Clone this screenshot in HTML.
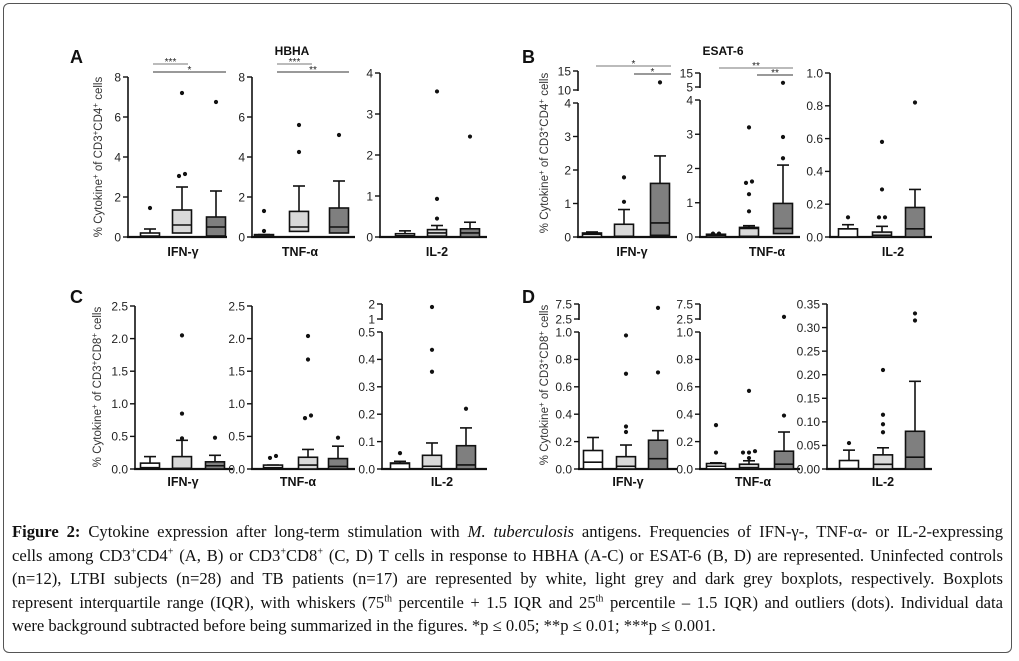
<!DOCTYPE html>
<html><head><meta charset="utf-8">
<style>
body{margin:0;background:#fff;width:1019px;height:661px;overflow:hidden;position:relative;font-family:"Liberation Sans",sans-serif}
#frame{position:absolute;left:3px;top:3px;width:1009px;height:650px;border:1.3px solid #555;border-radius:6px;box-sizing:border-box}
#cap{position:absolute;left:12px;top:520px;width:991px;font-family:"Liberation Serif",serif;font-size:16.6px;color:#111;line-height:23.5px}
#cap div{text-align:justify;text-align-last:justify;white-space:nowrap;overflow:visible}
#cap div.last{text-align-last:left}
sup{font-size:10px;line-height:0}
</style></head><body>
<div id="frame"></div>
<svg id="chart" width="1019" height="510" style="position:absolute;left:0;top:0" font-family="Liberation Sans, sans-serif"></svg>
<div id="cap">
<div><b>Figure 2:</b> Cytokine expression after long-term stimulation with <i>M. tuberculosis</i> antigens. Frequencies of IFN-γ-, TNF-α- or IL-2-expressing</div>
<div>cells among CD3<sup>+</sup>CD4<sup>+</sup> (A, B) or CD3<sup>+</sup>CD8<sup>+</sup> (C, D) T cells in response to HBHA (A-C) or ESAT-6 (B, D) are represented. Uninfected controls</div>
<div>(n=12), LTBI subjects (n=28) and TB patients (n=17) are represented by white, light grey and dark grey boxplots, respectively. Boxplots</div>
<div>represent interquartile range (IQR), with whiskers (75<sup>th</sup> percentile + 1.5 IQR and 25<sup>th</sup> percentile – 1.5 IQR) and outliers (dots). Individual data</div>
<div class="last">were background subtracted before being summarized in the figures. *p ≤ 0.05; **p ≤ 0.01; ***p ≤ 0.001.</div>
</div>
<script>
// ---- data: groups = controls, LTBI, TB ----
const groups = ["Controls","LTBI","TB"];
const A1_q1=[0,0.2,0.05], A1_med=[0.05,0.6,0.5], A1_q3=[0.2,1.35,1.0], A1_hi=[0.4,2.5,2.3], A1_out=[[1.45],[3.05,3.15,7.2],[6.75]];
const A2_q1=[0,0.28,0.2], A2_med=[0.05,0.5,0.5], A2_q3=[0.12,1.28,1.45], A2_hi=[0.12,2.55,2.8], A2_out=[[0.3,1.3],[4.25,5.6],[5.1]];
const A3_q1=[0,0.02,0], A3_med=[0.03,0.1,0.1], A3_q3=[0.08,0.18,0.2], A3_hi=[0.15,0.28,0.36], A3_out=[[],[0.45,0.93,3.55],[2.45]];
const B1_q1=[0,0,0.05], B1_med=[0.08,0.02,0.42], B1_q3=[0.12,0.38,1.6], B1_hi=[0.15,0.82,2.42], B1_out=[[],[1.05,1.78],[12]];
const B2_q1=[0,0.02,0.1], B2_med=[0.05,0.25,0.25], B2_q3=[0.08,0.28,0.98], B2_hi=[0.08,0.33,2.1], B2_out=[[0.1,0.1],[0.75,1.25,1.58,1.62,3.2],[2.3,2.92,8]];
const B3_q1=[0,0,0], B3_med=[0.05,0.01,0.05], B3_q3=[0.05,0.03,0.18], B3_hi=[0.075,0.065,0.29], B3_out=[[0.12],[0.12,0.12,0.29,0.58],[0.82]];
const C1_q1=[0,0,0], C1_med=[0.02,0.01,0.05], C1_q3=[0.09,0.19,0.11], C1_hi=[0.19,0.44,0.21], C1_out=[[],[0.47,0.85,2.05],[0.48]];
const C2_q1=[0,0,0], C2_med=[0.02,0.06,0.04], C2_q3=[0.06,0.18,0.16], C2_hi=[0.06,0.3,0.35], C2_out=[[0.17,0.2],[0.78,0.82,1.68,2.04],[0.48]];
const C3_q1=[0,0,0], C3_med=[0.02,0.01,0.015], C3_q3=[0.022,0.05,0.085], C3_hi=[0.028,0.095,0.15], C3_out=[[0.058],[0.355,0.435,1.8],[0.22]];
const D1_q1=[0,0,0], D1_med=[0.05,0.02,0.075], D1_q3=[0.135,0.09,0.21], D1_hi=[0.23,0.175,0.28], D1_out=[[],[0.27,0.31,0.695,0.975],[0.705,6.2]];
const D2_q1=[0,0,0], D2_med=[0.02,0.01,0.035], D2_q3=[0.04,0.035,0.13], D2_hi=[0.045,0.06,0.27], D2_out=[[0.12,0.32],[0.08,0.12,0.12,0.13,0.57],[0.39,3.2]];
const D3_q1=[0,0,0], D3_med=[0.001,0.01,0.025], D3_q3=[0.018,0.03,0.08], D3_hi=[0.04,0.045,0.186], D3_out=[[0.055],[0.078,0.095,0.115,0.21],[0.315,0.33]];
// tick values & labels
const tA12=[0,2,4,6,8], lA12=["0","2","4","6","8"];
const tA3=[0,1,2,3,4], lA3=["0","1","2","3","4"];
const tB1=[0,1,2,3,4,10,15], lB1=["0","1","2","3","4","10","15"];
const tB2=[0,1,2,3,4,5,15], lB2=["0","1","2","3","4","5","15"];
const tB3=[0,0.2,0.4,0.6,0.8,1.0], lB3=["0.0","0.2","0.4","0.6","0.8","1.0"];
const tC12=[0,0.5,1,1.5,2,2.5], lC12=["0.0","0.5","1.0","1.5","2.0","2.5"];
const tC3=[0,0.1,0.2,0.3,0.4,0.5,1,2], lC3=["0.0","0.1","0.2","0.3","0.4","0.5","1","2"];
const tD12=[0,0.2,0.4,0.6,0.8,1.0,2.5,7.5], lD12=["0.0","0.2","0.4","0.6","0.8","1.0","2.5","7.5"];
const tD3=[0,0.05,0.1,0.15,0.2,0.25,0.3,0.35], lD3=["0.00","0.05","0.10","0.15","0.20","0.25","0.30","0.35"];
const sigLabels=["***","*","***","**","*","*","**","**"];

// ---- layout ----
const NS="http://www.w3.org/2000/svg";
const svg=document.getElementById('chart');
const fills=["#ffffff","#d9d9d9","#7f7f7f"];
function el(tag,attrs,parent){const e=document.createElementNS(NS,tag);for(const k in attrs)e.setAttribute(k,attrs[k]);(parent||svg).appendChild(e);return e;}
function txt(x,y,s,attrs){const t=el('text',Object.assign({x:x,y:y},attrs));t.textContent=s;return t;}

const plots=[
 {id:"a-ifn",ax:128,end:227,segs:[[0,8,237,77]],t:tA12,l:lA12,bx:[150,182,216],cat:"IFN-γ",cx:183,cy:256,d:[A1_q1,A1_med,A1_q3,A1_hi,A1_out]},
 {id:"a-tnf",ax:252,end:355,segs:[[0,8,237,77]],t:tA12,l:lA12,bx:[264,299,339],cat:"TNF-α",cx:300,cy:256,d:[A2_q1,A2_med,A2_q3,A2_hi,A2_out]},
 {id:"a-il2",ax:380,end:487,segs:[[0,4,237,73]],t:tA3,l:lA3,bx:[405,437,470],cat:"IL-2",cx:437,cy:256,d:[A3_q1,A3_med,A3_q3,A3_hi,A3_out]},
 {id:"b-ifn",ax:578,end:677,segs:[[0,4,237,103],[10,15,90,71]],t:tB1,l:lB1,bx:[592,624,660],cat:"IFN-γ",cx:632,cy:256,d:[B1_q1,B1_med,B1_q3,B1_hi,B1_out]},
 {id:"b-tnf",ax:700,end:800,segs:[[0,4,237,100],[5,15,87,73]],t:tB2,l:lB2,bx:[716,749,783],cat:"TNF-α",cx:767,cy:256,d:[B2_q1,B2_med,B2_q3,B2_hi,B2_out]},
 {id:"b-il2",ax:830,end:932,segs:[[0,1,237,73]],t:tB3,l:lB3,bx:[848,882,915],cat:"IL-2",cx:893,cy:256,d:[B3_q1,B3_med,B3_q3,B3_hi,B3_out]},
 {id:"c-ifn",ax:135,end:233,segs:[[0,2.5,469,306]],t:tC12,l:lC12,bx:[150,182,215],cat:"IFN-γ",cx:183,cy:486,d:[C1_q1,C1_med,C1_q3,C1_hi,C1_out]},
 {id:"c-tnf",ax:252,end:355,segs:[[0,2.5,469,306]],t:tC12,l:lC12,bx:[273,308,338],cat:"TNF-α",cx:298,cy:486,d:[C2_q1,C2_med,C2_q3,C2_hi,C2_out]},
 {id:"c-il2",ax:382,end:487,segs:[[0,0.5,469,332],[1,2,319,304]],t:tC3,l:lC3,bx:[400,432,466],cat:"IL-2",cx:442,cy:486,d:[C3_q1,C3_med,C3_q3,C3_hi,C3_out]},
 {id:"d-ifn",ax:579,end:677,segs:[[0,1,469,332],[2.5,7.5,319,304]],t:tD12,l:lD12,bx:[593,626,658],cat:"IFN-γ",cx:628,cy:486,d:[D1_q1,D1_med,D1_q3,D1_hi,D1_out]},
 {id:"d-tnf",ax:700,end:800,segs:[[0,1,469,332],[2.5,7.5,319,304]],t:tD12,l:lD12,bx:[716,749,784],cat:"TNF-α",cx:753,cy:486,d:[D2_q1,D2_med,D2_q3,D2_hi,D2_out]},
 {id:"d-il2",ax:827,end:932,segs:[[0,0.35,469,304]],t:tD3,l:lD3,bx:[849,883,915],cat:"IL-2",cx:883,cy:486,d:[D3_q1,D3_med,D3_q3,D3_hi,D3_out]}
];

function makeY(segs){return function(v){let s=segs[segs.length-1];for(const g of segs){if(v<=g[1]){s=g;break;}}return s[2]+(v-s[0])/(s[1]-s[0])*(s[3]-s[2]);};}

plots.forEach(p=>{
 const g=el('g',{});
 
 
 const y=makeY(p.segs);
 p.segs.forEach(s=>{
  const a=el('line',{x1:p.ax,x2:p.ax,y1:s[2]+1,y2:s[3],stroke:'#111','stroke-width':1.6},g);
  
  
 });
 const base=el('line',{x1:p.ax-1,x2:p.end,y1:p.segs[0][2],y2:p.segs[0][2],stroke:'#111','stroke-width':2.2},g);
 
 
 p.t.forEach((v,i)=>{
  const yy=y(v);
  el('line',{x1:p.ax-5,x2:p.ax,y1:yy,y2:yy,stroke:'#111','stroke-width':1.4},g);
  const t=txt(p.ax-7,yy+4.3,p.l[i],{'text-anchor':'end','font-size':12,fill:'#222'});
  
  
  g.appendChild(t);
 });
 const c=txt(p.cx,p.cy,p.cat,{'text-anchor':'middle','font-size':12.5,'font-weight':'bold',fill:'#111'});
 
 
 g.appendChild(c);
 const [q1,med,q3,hi,out]=p.d;
 const W=19;
 for(let i=0;i<3;i++){
  const x=p.bx[i];
  const w=el('line',{x1:x,x2:x,y1:y(q3[i]),y2:y(hi[i]),stroke:'#111','stroke-width':1.6},g);
  
  
  el('line',{x1:x-6,x2:x+6,y1:y(hi[i]),y2:y(hi[i]),stroke:'#111','stroke-width':1.6},g);
  const top=y(q3[i]),bot=y(q1[i]);
  const b=el('rect',{x:x-W/2,y:top,width:W,height:Math.max(bot-top,0.5),fill:fills[i],stroke:'#111','stroke-width':1.6},g);
  
  
  el('line',{x1:x-W/2,x2:x+W/2,y1:y(med[i]),y2:y(med[i]),stroke:'#111','stroke-width':1.6},g);
  const pts=out[i].map(v=>y(v));
  pts.forEach((py,k)=>{
   let dx=0;
   const near=pts.filter(q=>Math.abs(q-py)<3.5);
   if(near.length>1){const idx=pts.slice(0,k).filter(q=>Math.abs(q-py)<3.5).length;dx=(idx-(near.length-1)/2)*6;}
   const o=el('circle',{cx:x+dx,cy:py,r:2.1,fill:'#111'},g);
   
   
  });
 }
});

// significance bars: [x1,x2,y]
const sigPos=[[153,188,64],[153,226,72],[277,312,64],[277,349,72],[596,671,66],[634,671,74],[719,793,68],[757,793,75]];
sigLabels.forEach((s,i)=>{
 const [x1,x2,yy]=sigPos[i];
 const l=el('line',{x1:x1,x2:x2,y1:yy,y2:yy,stroke:i%2?'#333':'#777','stroke-width':1});
 
 
 const t=txt((x1+x2)/2,yy+1,s,{'text-anchor':'middle','font-size':10,fill:'#222'});
 
 
});

[["A",70,63],["B",522,63],["C",70,303],["D",522,303]].forEach(a=>{
 const t=txt(a[1],a[2],a[0],{'font-size':18,'font-weight':'bold',fill:'#111'});
 
 
});
[["HBHA",292,55],["ESAT-6",723,55]].forEach(a=>{
 const t=txt(a[1],a[2],a[0],{'font-size':12,'font-weight':'bold','text-anchor':'middle',fill:'#111'});
 
 
});
[[98,157,"CD4"],[544,153,"CD4"],[97,387,"CD8"],[544,385,"CD8"]].forEach(a=>{
 const t=el('text',{x:0,y:0,transform:`translate(${a[0]+4},${a[1]}) rotate(-90)`,'text-anchor':'middle','font-size':11.5,fill:'#333'});
 t.innerHTML=`% Cytokine<tspan dy="-4" font-size="8">+</tspan><tspan dy="4"> of CD3</tspan><tspan dy="-4" font-size="8">+</tspan><tspan dy="4">${a[2]}</tspan><tspan dy="-4" font-size="8">+</tspan><tspan dy="4"> cells</tspan>`;
 
 
});
</script>
</body></html>
